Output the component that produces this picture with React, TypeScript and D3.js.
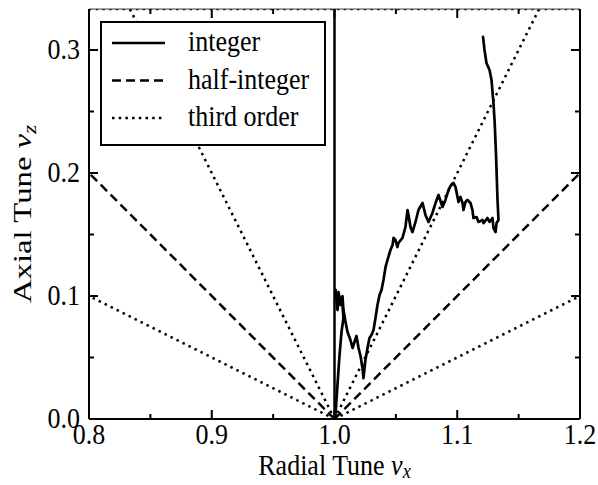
import React from "react";
import * as d3 from "d3";

// ---- data ----
const tuneX = [
  1.0008, 1.0024, 1.0041, 1.0057, 1.0073, 1.0065, 1.0049, 1.0033, 1.0024, 1.0016,
  1.0008, 1.0016, 1.0033, 1.0049, 1.0065, 1.0073, 1.009, 1.0106, 1.013, 1.0147,
  1.0163, 1.0179, 1.0196, 1.0212, 1.0228, 1.0236, 1.0252, 1.0269, 1.0285, 1.0301,
  1.0318, 1.0334, 1.035, 1.0367, 1.0383, 1.0399, 1.0416, 1.0432, 1.0456, 1.0473,
  1.0481, 1.0497, 1.0513, 1.0521, 1.0554, 1.0578, 1.0595, 1.0603, 1.0619, 1.0635,
  1.066, 1.0684, 1.0717, 1.0741, 1.0766, 1.0798, 1.0823, 1.0847, 1.088, 1.0904,
  1.0929, 1.0945, 1.0969, 1.0986, 1.1002, 1.101, 1.1026, 1.1043, 1.1051, 1.1067,
  1.1083, 1.1108, 1.1124, 1.1132, 1.1157, 1.1173, 1.1206, 1.1214, 1.1246, 1.1263,
  1.1287, 1.1295, 1.1312, 1.132, 1.1336, 1.1328, 1.1316, 1.1304, 1.1295, 1.1279,
  1.1263, 1.1238, 1.1222, 1.121,
];
const tuneZ = [
  0.0033, 0.0276, 0.052, 0.0707, 0.0821, 0.0927, 0.0984, 0.0968, 0.0886, 0.0992,
  0.1049, 0.0968, 0.1033, 0.0927, 0.1, 0.0886, 0.0789, 0.0707, 0.0642, 0.0577,
  0.0626, 0.0675, 0.0577, 0.0512, 0.0415, 0.0333, 0.048, 0.0577, 0.0659, 0.0683,
  0.0724, 0.0821, 0.0927, 0.1008, 0.1049, 0.113, 0.1236, 0.1293, 0.1374, 0.1415,
  0.1472, 0.1455, 0.1398, 0.1431, 0.1472, 0.1561, 0.1699, 0.1659, 0.1561, 0.152,
  0.1602, 0.1699, 0.1756, 0.1659, 0.1602, 0.1675, 0.1756, 0.1821, 0.1724, 0.1781,
  0.1862, 0.1894, 0.1919, 0.1886, 0.1805, 0.1764, 0.1805, 0.1756, 0.1699, 0.1764,
  0.1781, 0.1756, 0.1699, 0.1634, 0.1642, 0.1602, 0.1618, 0.1593, 0.1634, 0.1602,
  0.1634, 0.1553, 0.152, 0.1593, 0.1618, 0.1781, 0.2146, 0.2431, 0.2569, 0.2756,
  0.2837, 0.2894, 0.3, 0.3106,
];

// resonance lines through (1, 0): slope dνz/dνx
const integerX = [1.0];
const halfIntegerSlopes = [-1, 1];
const thirdOrderSlopes = [-0.5, -2, 2, 0.5];
const thirdOrderHorizontal = [1 / 3];

const xTicks = [0.8, 0.9, 1.0, 1.1, 1.2];
const xMinor = [0.85, 0.95, 1.05, 1.15];
const yTicks = [0.0, 0.1, 0.2, 0.3];
const yMinor = [0.05, 0.15, 0.25];

const legendItems = [
  { label: "integer", dash: "none" },
  { label: "half-integer", dash: "9,5" },
  { label: "third order", dash: "2.5,4.2" },
];

const FONT = "'Liberation Serif', 'Times New Roman', serif";
const STRETCH = 1.12;

function T({ x, y, anchor, size, children }: any) {
  return (
    <text
      transform={`translate(${x},${y}) scale(1,${STRETCH})`}
      textAnchor={anchor || "start"}
      fontSize={size}
    >
      {children}
    </text>
  );
}

export default function App() {
  const W = 598, H = 485;
  const left = 89, right = 580, top = 9, bottom = 419;
  const x = d3.scaleLinear().domain([0.8, 1.2]).range([left, right]);
  const y = d3.scaleLinear().domain([0, 1 / 3]).range([bottom, top]);

  const line = d3
    .line<number>()
    .x((_, i) => x(tuneX[i]))
    .y((_, i) => y(tuneZ[i]));
  const curve = line(tuneX) || "";

  const slopeLine = (s: number) => {
    const x1 = s < 0 ? 0.8 : 1.2;
    return { x0: x(1), y0: y(0), x1: x(x1), y1: y(s * (x1 - 1)) };
  };

  const majorLen = 9, minorLen = 5;
  const fs = 26;

  return (
    <svg
      width={W}
      height={H}
      style={{ position: "absolute", left: 0, top: 0, background: "#fff" }}
      fontFamily={FONT}
    >
      <defs>
        <clipPath id="plot">
          <rect x={left} y={top} width={right - left} height={bottom - top} />
        </clipPath>
      </defs>
      <rect x={0} y={0} width={W} height={H} fill="#fff" />
      <g clipPath="url(#plot)" fill="none" stroke="#000">
        {thirdOrderSlopes.map((s, i) => {
          const l = slopeLine(s);
          return (
            <line key={"t" + i} x1={l.x0} y1={l.y0} x2={l.x1} y2={l.y1}
              strokeWidth={2.5} strokeDasharray="2.5,4.2" />
          );
        })}
        {thirdOrderHorizontal.map((v, i) => (
          <line key={"th" + i} x1={left} x2={right} y1={y(v)} y2={y(v)}
            strokeWidth={2.5} strokeDasharray="2.5,4.2" />
        ))}
        {halfIntegerSlopes.map((s, i) => {
          const l = slopeLine(s);
          return (
            <line key={"h" + i} x1={l.x0} y1={l.y0} x2={l.x1} y2={l.y1}
              strokeWidth={2.5} strokeDasharray="9,5" />
          );
        })}
        {integerX.map((v, i) => (
          <line key={"i" + i} x1={x(v)} x2={x(v)} y1={bottom} y2={top} strokeWidth={2.5} />
        ))}
        <path d={curve} strokeWidth={2.7} strokeLinejoin="round" strokeLinecap="round" />
      </g>

      {/* frame */}
      <g stroke="#000" fill="none">
        <line x1={left} x2={right} y1={top} y2={top} strokeWidth={1} stroke="#444" />
        <line x1={left} x2={left} y1={top} y2={bottom} strokeWidth={2} />
        <line x1={right} x2={right} y1={top} y2={bottom} strokeWidth={2} />
        <line x1={left} x2={right} y1={bottom} y2={bottom} strokeWidth={2} />
        {xTicks.map((t) => (
          <g key={"xt" + t}>
            <line x1={x(t)} x2={x(t)} y1={bottom} y2={bottom - majorLen} strokeWidth={2} />
            <line x1={x(t)} x2={x(t)} y1={top} y2={top + majorLen} strokeWidth={2} />
          </g>
        ))}
        {xMinor.map((t) => (
          <g key={"xm" + t}>
            <line x1={x(t)} x2={x(t)} y1={bottom} y2={bottom - minorLen} strokeWidth={2} />
            <line x1={x(t)} x2={x(t)} y1={top} y2={top + minorLen} strokeWidth={2} />
          </g>
        ))}
        {yTicks.map((t) => (
          <g key={"yt" + t}>
            <line x1={left} x2={left + majorLen} y1={y(t)} y2={y(t)} strokeWidth={2} />
            <line x1={right} x2={right - majorLen} y1={y(t)} y2={y(t)} strokeWidth={2} />
          </g>
        ))}
        {yMinor.map((t) => (
          <g key={"ym" + t}>
            <line x1={left} x2={left + minorLen} y1={y(t)} y2={y(t)} strokeWidth={2} />
            <line x1={right} x2={right - minorLen} y1={y(t)} y2={y(t)} strokeWidth={2} />
          </g>
        ))}
      </g>

      {/* tick labels */}
      <g fill="#000">
        {xTicks.map((t) => (
          <T key={"xl" + t} x={x(t)} y={444} anchor="middle" size={fs}>
            {d3.format(".1f")(t)}
          </T>
        ))}
        {yTicks.map((t) => (
          <T key={"yl" + t} x={80} y={y(t) + 9} anchor="end" size={fs}>
            {d3.format(".1f")(t)}
          </T>
        ))}
      </g>

      {/* axis labels */}
      <T x={(left + right) / 2} y={475} anchor="middle" size={fs}>
        Radial Tune <tspan fontStyle="italic">ν</tspan>
        <tspan fontStyle="italic" fontSize={fs * 0.7} dy={3}>x</tspan>
      </T>
      <text
        transform={`translate(31, ${(top + bottom) / 2}) scale(1,1.26) rotate(-90)`}
        fontSize={fs}
        textAnchor="middle"
      >
        Axial Tune <tspan fontStyle="italic">ν</tspan>
        <tspan fontStyle="italic" fontSize={fs * 0.7} dy={5}>z</tspan>
      </text>

      {/* legend */}
      <g>
        <rect x={101} y={22} width={224} height={123} fill="#fff" stroke="#000" strokeWidth={2} />
        {legendItems.map((it, i) => {
          const cy = 43 + i * 37.5;
          return (
            <g key={it.label}>
              <line x1={112} x2={165} y1={cy} y2={cy} stroke="#000" strokeWidth={2.5}
                strokeDasharray={it.dash} />
              <T x={188} y={cy + 8} size={fs}>{it.label}</T>
            </g>
          );
        })}
      </g>
    </svg>
  );
}
